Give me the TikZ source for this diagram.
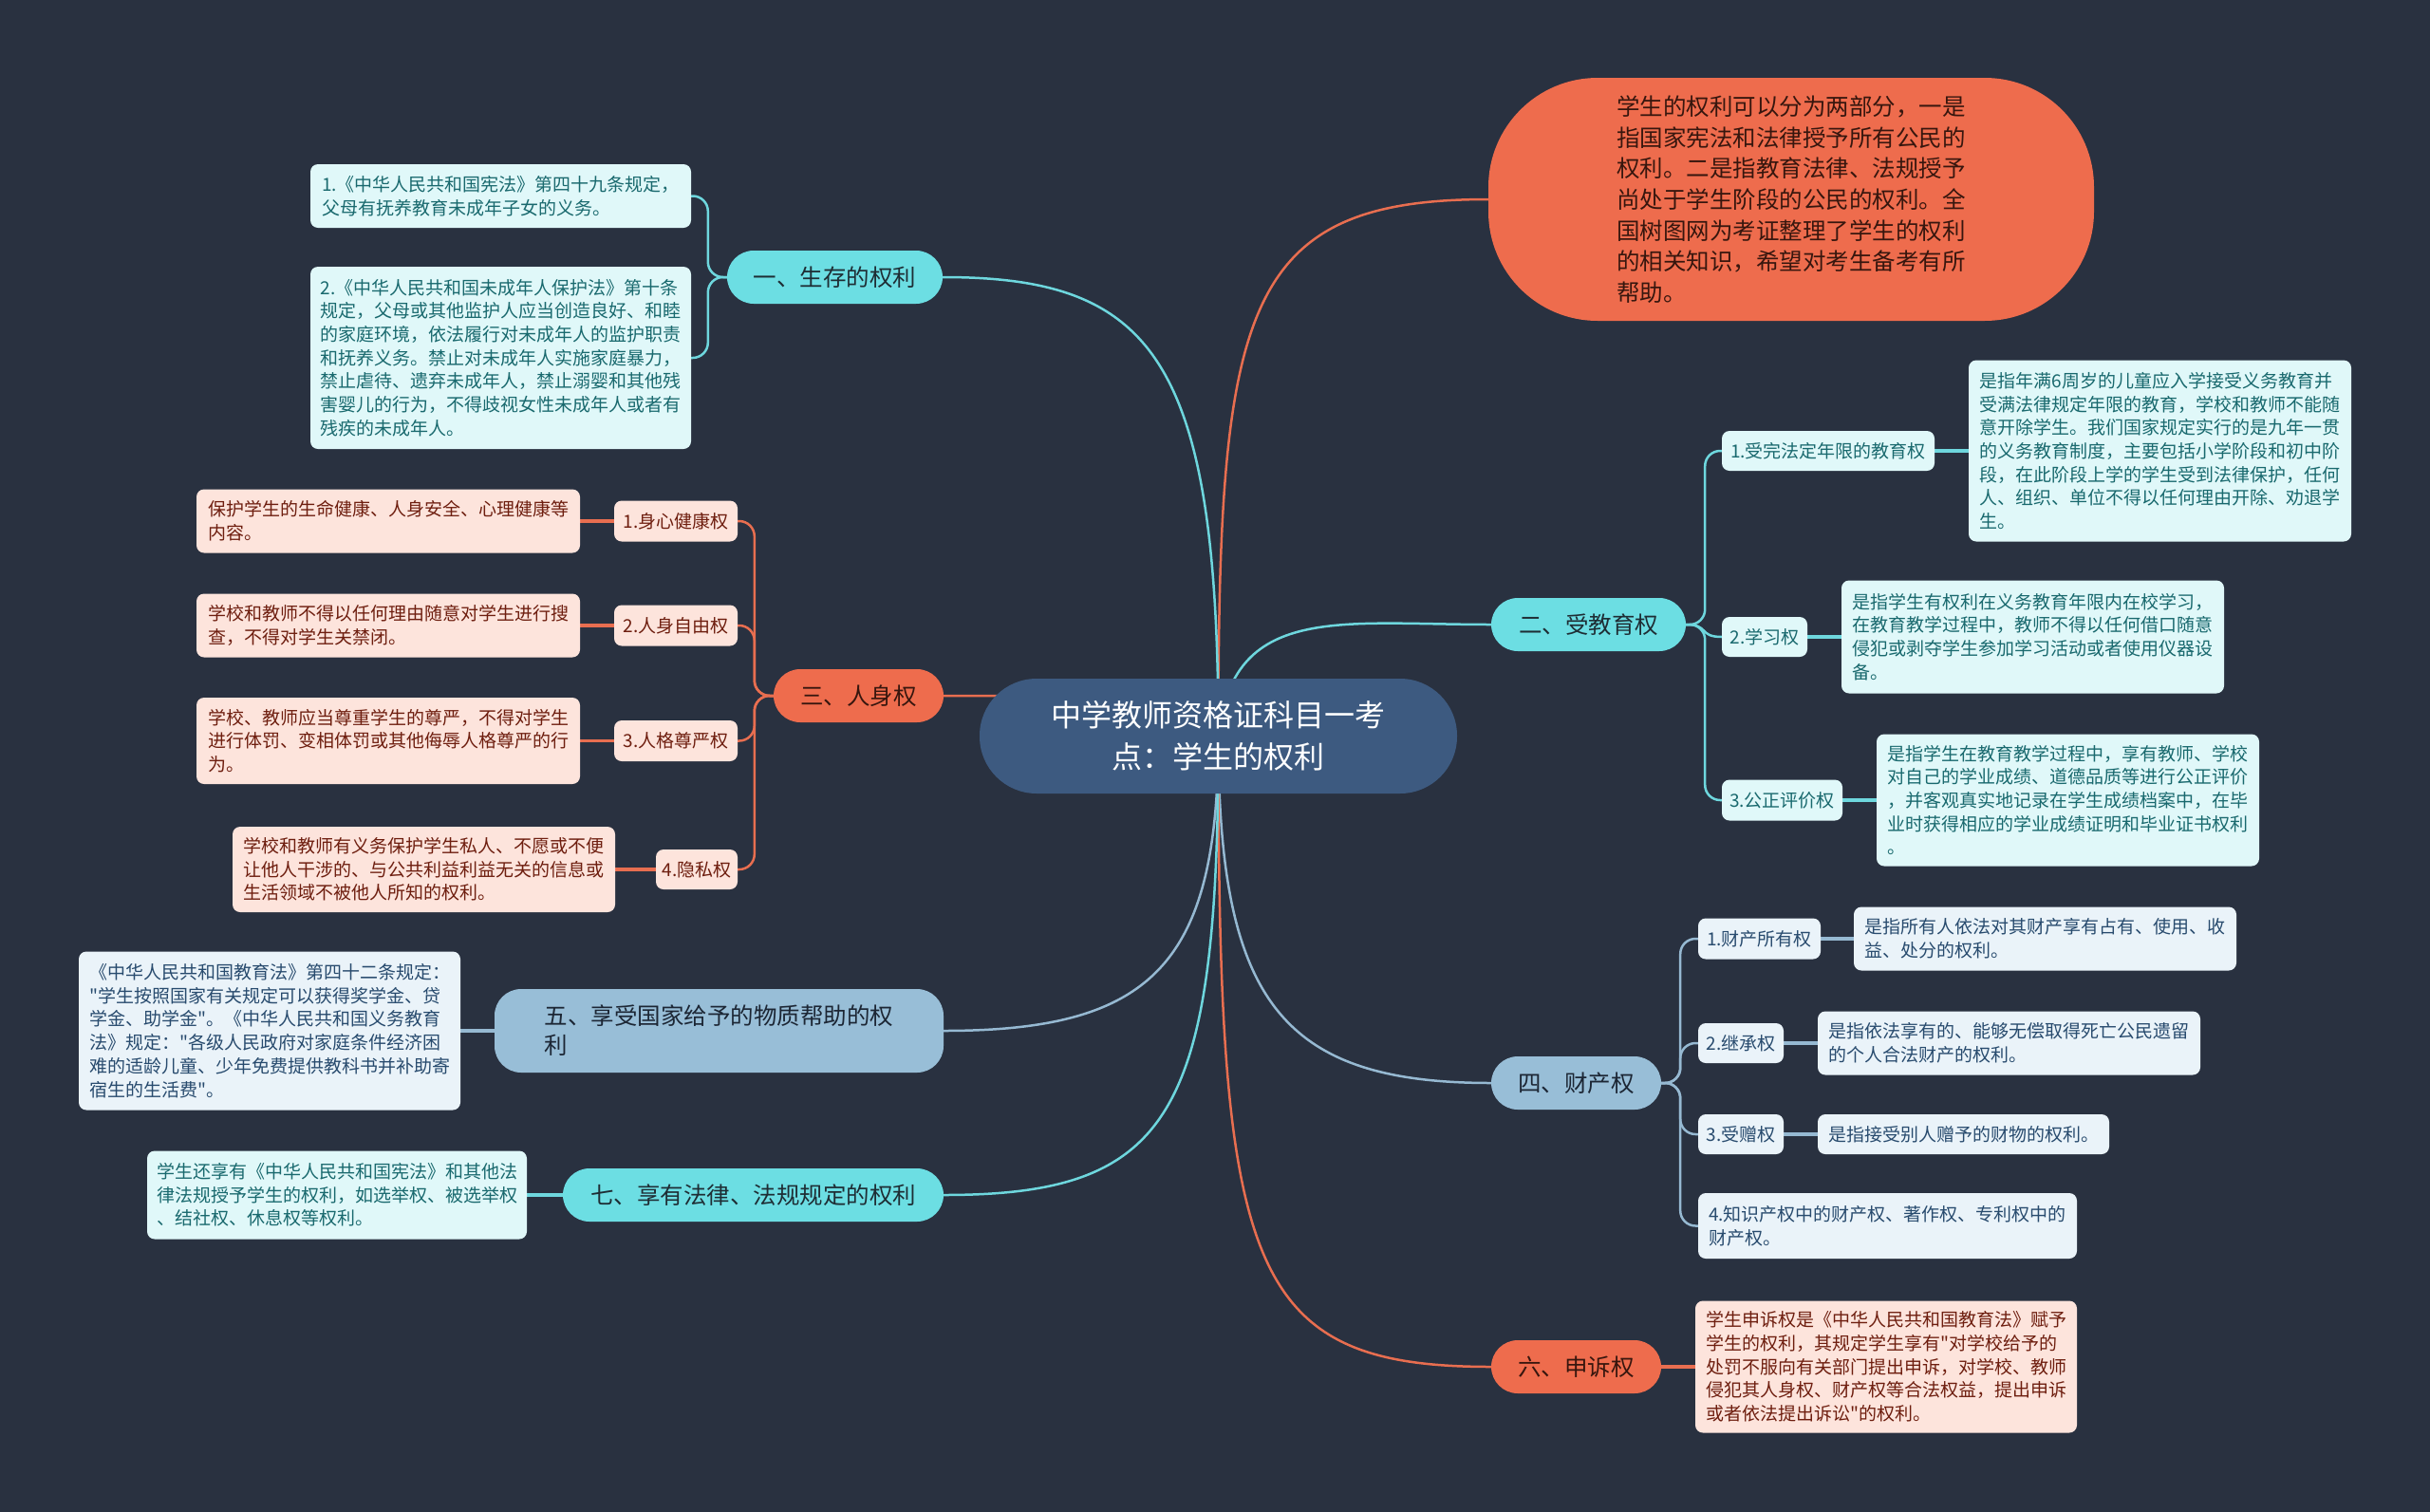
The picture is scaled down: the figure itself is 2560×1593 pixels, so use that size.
\documentclass[tikz,border=0pt]{standalone}
\usepackage{fontspec}
\setmainfont{Noto Sans CJK SC}[Ligatures=TeXOff]
\definecolor{bgC}{RGB}{41,49,64}
\definecolor{rootC}{RGB}{61,90,128}
\definecolor{cyanC}{RGB}{108,222,227}
\definecolor{cyanT}{RGB}{30,45,52}
\definecolor{cyanL}{RGB}{224,248,249}
\definecolor{cyanLT}{RGB}{25,105,110}
\definecolor{cyanLine}{RGB}{110,215,222}
\definecolor{coralC}{RGB}{238,108,77}
\definecolor{coralT}{RGB}{55,22,14}
\definecolor{pinkL}{RGB}{253,228,220}
\definecolor{pinkLT}{RGB}{110,30,15}
\definecolor{coralLine}{RGB}{232,110,80}
\definecolor{steelC}{RGB}{152,190,215}
\definecolor{steelT}{RGB}{28,38,52}
\definecolor{blueL}{RGB}{234,243,249}
\definecolor{blueLT}{RGB}{40,75,110}
\definecolor{steelLine}{RGB}{150,185,210}
\pgfdeclarelayer{bg}
\pgfsetlayers{bg,main}
\tikzset{
  sz/.style 2 args={minimum width=#1pt,minimum height=#2pt},
  nb/.style={rectangle,inner sep=0pt,align=left},
  rootnode/.style={nb,align=center,fill=rootC,text=white,rounded corners=60pt,font=\fontsize{32}{44}\selectfont},
  maintext/.style={nb,fill=coralC,text=coralT,rounded corners=115pt,font=\fontsize{24.5}{32.7}\selectfont},
  brcyan/.style={nb,fill=cyanC,text=cyanT,rounded corners=28pt,font=\fontsize{24.5}{31}\selectfont},
  brcoral/.style={nb,fill=coralC,text=coralT,rounded corners=28pt,font=\fontsize{24.5}{31}\selectfont},
  brsteel/.style={nb,fill=steelC,text=steelT,rounded corners=28pt,font=\fontsize{24.5}{31}\selectfont},
  lfcyan/.style={nb,fill=cyanL,text=cyanLT,rounded corners=8pt,font=\fontsize{19}{24.7}\selectfont},
  lfpink/.style={nb,fill=pinkL,text=pinkLT,rounded corners=8pt,font=\fontsize{19}{24.7}\selectfont},
  lfblue/.style={nb,fill=blueL,text=blueLT,rounded corners=8pt,font=\fontsize{19}{24.7}\selectfont},
  mainlk/.style={line width=2.5pt},
  sublk/.style={line width=2.5pt,rounded corners=16pt},
  leaflk/.style={line width=3.5pt},
}
\begin{document}
\begin{tikzpicture}[x=1pt,y=-1pt]
\useasboundingbox (0,0) rectangle (2560,1593);
% root
\node[rootnode,sz={503}{121}] (root) at (1283.5,775.5) {中学教师资格证科目一考\\点：学生的权利};
% intro text
\node[maintext,sz={638}{256}] (txt) at (1887,210) {学生的权利可以分为两部分，一是\\指国家宪法和法律授予所有公民的\\权利。二是指教育法律、法规授予\\尚处于学生阶段的公民的权利。全\\国树图网为考证整理了学生的权利\\的相关知识，希望对考生备考有所\\帮助。};
% branch 1
\node[brcyan,sz={227}{56}] (n1) at (879.5,292) {一、生存的权利};
\node[lfcyan,sz={401}{67}] (l1a) at (527.5,206.5) {1.《中华人民共和国宪法》第四十九条规定，\\父母有抚养教育未成年子女的义务。};
\node[lfcyan,sz={401}{192}] (l1b) at (527.5,377) {2.《中华人民共和国未成年人保护法》第十条\\规定，父母或其他监护人应当创造良好、和睦\\的家庭环境，依法履行对未成年人的监护职责\\和抚养义务。禁止对未成年人实施家庭暴力，\\禁止虐待、遗弃未成年人，禁止溺婴和其他残\\害婴儿的行为，不得歧视女性未成年人或者有\\残疾的未成年人。};
% branch 2
\node[brcyan,sz={205}{56}] (n2) at (1673.5,658) {二、受教育权};
\node[lfcyan,sz={224}{42}] (n2a) at (1926,475) {1.受完法定年限的教育权};
\node[lfcyan,sz={403}{191}] (l2a) at (2275.5,475) {是指年满6周岁的儿童应入学接受义务教育并\\受满法律规定年限的教育，学校和教师不能随\\意开除学生。我们国家规定实行的是九年一贯\\的义务教育制度，主要包括小学阶段和初中阶\\段，在此阶段上学的学生受到法律保护，任何\\人、组织、单位不得以任何理由开除、劝退学\\生。};
\node[lfcyan,sz={90}{42}] (n2b) at (1859,671) {2.学习权};
\node[lfcyan,sz={403}{119}] (l2b) at (2141.5,671) {是指学生有权利在义务教育年限内在校学习，\\在教育教学过程中，教师不得以任何借口随意\\侵犯或剥夺学生参加学习活动或者使用仪器设\\备。};
\node[lfcyan,sz={127}{43}] (n2c) at (1877.5,843) {3.公正评价权};
\node[lfcyan,sz={403}{139}] (l2c) at (2178.5,843) {是指学生在教育教学过程中，享有教师、学校\\对自己的学业成绩、道德品质等进行公正评价\\，并客观真实地记录在学生成绩档案中，在毕\\业时获得相应的学业成绩证明和毕业证书权利\\。};
% branch 3
\node[brcoral,sz={179}{56}] (n3) at (904.5,733) {三、人身权};
\node[lfpink,sz={130}{43}] (n3a) at (712,549) {1.身心健康权};
\node[lfpink,sz={404}{67}] (l3a) at (409,549) {保护学生的生命健康、人身安全、心理健康等\\内容。};
\node[lfpink,sz={130}{43}] (n3b) at (712,659) {2.人身自由权};
\node[lfpink,sz={404}{67}] (l3b) at (409,659) {学校和教师不得以任何理由随意对学生进行搜\\查，不得对学生关禁闭。};
\node[lfpink,sz={130}{43}] (n3c) at (712,780.5) {3.人格尊严权};
\node[lfpink,sz={404}{91}] (l3c) at (409,780.5) {学校、教师应当尊重学生的尊严，不得对学生\\进行体罚、变相体罚或其他侮辱人格尊严的行\\为。};
\node[lfpink,sz={86}{42}] (n3d) at (734,916) {4.隐私权};
\node[lfpink,sz={403}{90}] (l3d) at (446.5,916) {学校和教师有义务保护学生私人、不愿或不便\\让他人干涉的、与公共利益利益无关的信息或\\生活领域不被他人所知的权利。};
% branch 4
\node[brsteel,sz={179}{56}] (n4) at (1660.5,1141) {四、财产权};
\node[lfblue,sz={129}{43}] (n4a) at (1853.5,989) {1.财产所有权};
\node[lfblue,sz={403}{67}] (l4a) at (2154.5,989) {是指所有人依法对其财产享有占有、使用、收\\益、处分的权利。};
\node[lfblue,sz={90}{42}] (n4b) at (1834,1099) {2.继承权};
\node[lfblue,sz={403}{67}] (l4b) at (2116.5,1099) {是指依法享有的、能够无偿取得死亡公民遗留\\的个人合法财产的权利。};
\node[lfblue,sz={90}{42}] (n4c) at (1834,1195) {3.受赠权};
\node[lfblue,sz={307}{42}] (l4c) at (2068.5,1195) {是指接受别人赠予的财物的权利。};
\node[lfblue,sz={399}{69}] (n4d) at (1988.5,1291.5) {4.知识产权中的财产权、著作权、专利权中的\\财产权。};
% branch 5
\node[brsteel,sz={473}{88}] (n5) at (757.5,1086) {五、享受国家给予的物质帮助的权\\利};
\node[lfblue,sz={402}{167}] (l5) at (284,1086) {《中华人民共和国教育法》第四十二条规定：\\"学生按照国家有关规定可以获得奖学金、贷\\学金、助学金"。《中华人民共和国义务教育\\法》规定："各级人民政府对家庭条件经济困\\难的适龄儿童、少年免费提供教科书并补助寄\\宿生的生活费"。};
% branch 6
\node[brcoral,sz={179}{56}] (n6) at (1660.5,1440) {六、申诉权};
\node[lfpink,sz={402}{139}] (l6) at (1987,1440) {学生申诉权是《中华人民共和国教育法》赋予\\学生的权利，其规定学生享有"对学校给予的\\处罚不服向有关部门提出申诉，对学校、教师\\侵犯其人身权、财产权等合法权益，提出申诉\\或者依法提出诉讼"的权利。};
% branch 7
\node[brcyan,sz={401}{56}] (n7) at (793.5,1259) {七、享有法律、法规规定的权利};
\node[lfcyan,sz={400}{93}] (l7) at (355,1259) {学生还享有《中华人民共和国宪法》和其他法\\律法规授予学生的权利，如选举权、被选举权\\、结社权、休息权等权利。};

\begin{pgfonlayer}{bg}
\fill[bgC] (0,0) rectangle (2560,1593);
% root connectors
\draw[mainlk,coralLine] (root.center) .. controls +(0,-450) and +(-260,0) .. (txt.west);
\draw[mainlk,cyanLine] (root.center) .. controls +(0,-400) and +(220,0) .. (n1.east);
\draw[mainlk,cyanLine] (root.center) .. controls +(15,-140) and +(-160,0) .. (n2.west);
\draw[mainlk,coralLine] (root.center) .. controls +(-150,-42) and +(150,0) .. (n3.east);
\draw[mainlk,steelLine] (root.center) .. controls +(0,280) and +(-220,0) .. (n4.west);
\draw[mainlk,steelLine] (root.center) .. controls +(0,240) and +(220,0) .. (n5.east);
\draw[mainlk,coralLine] (root.center) .. controls +(0,560) and +(-260,0) .. (n6.west);
\draw[mainlk,cyanLine] (root.center) .. controls +(0,400) and +(240,0) .. (n7.east);
% branch 1
\draw[sublk,cyanLine] (n1.west) -- ++(-20,0) |- (l1a.east);
\draw[sublk,cyanLine] (n1.west) -- ++(-20,0) |- (l1b.east);
% branch 2
\draw[sublk,cyanLine] (n2.east) -- ++(20,0) |- (n2a.west);
\draw[mainlk,cyanLine] (n2.east) .. controls +(25,0) and +(-25,0) .. (n2b.west);
\draw[sublk,cyanLine] (n2.east) -- ++(20,0) |- (n2c.west);
\draw[leaflk,cyanLine] (n2a.east) -- (l2a.west);
\draw[leaflk,cyanLine] (n2b.east) -- (l2b.west);
\draw[leaflk,cyanLine] (n2c.east) -- (l2c.west);
% branch 3
\draw[sublk,coralLine] (n3.west) -- ++(-20,0) |- (n3a.east);
\draw[sublk,coralLine] (n3.west) -- ++(-20,0) |- (n3b.east);
\draw[sublk,coralLine] (n3.west) -- ++(-20,0) |- (n3c.east);
\draw[sublk,coralLine] (n3.west) -- ++(-20,0) |- (n3d.east);
\draw[leaflk,coralLine] (n3a.west) -- (l3a.east);
\draw[leaflk,coralLine] (n3b.west) -- (l3b.east);
\draw[leaflk,coralLine] (n3c.west) -- (l3c.east);
\draw[leaflk,coralLine] (n3d.west) -- (l3d.east);
% branch 4
\draw[sublk,steelLine] (n4.east) -- ++(20,0) |- (n4a.west);
\draw[sublk,steelLine] (n4.east) -- ++(20,0) |- (n4b.west);
\draw[sublk,steelLine] (n4.east) -- ++(20,0) |- (n4c.west);
\draw[sublk,steelLine] (n4.east) -- ++(20,0) |- (n4d.west);
\draw[leaflk,steelLine] (n4a.east) -- (l4a.west);
\draw[leaflk,steelLine] (n4b.east) -- (l4b.west);
\draw[leaflk,steelLine] (n4c.east) -- (l4c.west);
% branches 5,6,7
\draw[leaflk,steelLine] (n5.west) -- (l5.east);
\draw[leaflk,coralLine] (n6.east) -- (l6.west);
\draw[leaflk,cyanLine] (n7.west) -- (l7.east);
\end{pgfonlayer}
\end{tikzpicture}
\end{document}
